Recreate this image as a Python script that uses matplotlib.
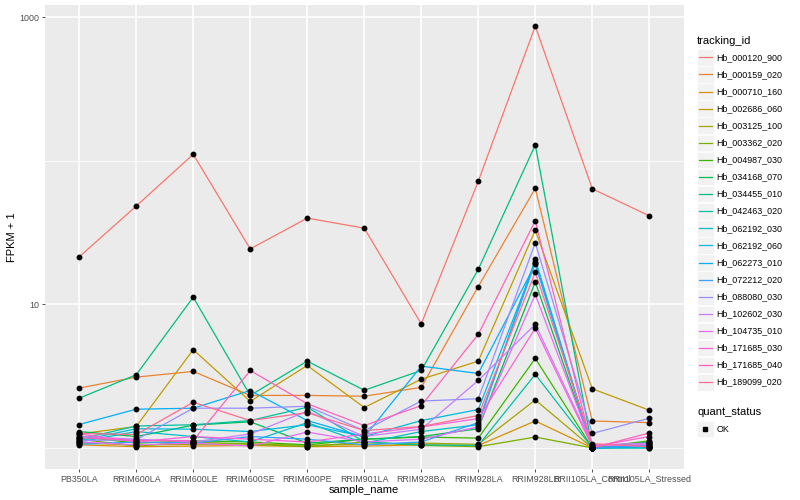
import numpy as np
import matplotlib
matplotlib.use("Agg")
import matplotlib.pyplot as plt
from matplotlib.patches import Rectangle
from matplotlib.lines import Line2D

plt.rcParams['font.family'] = ['Liberation Sans', 'DejaVu Sans']

samples = ['PB350LA', 'RRIM600LA', 'RRIM600LE', 'RRIM600SE', 'RRIM600PE',
           'RRIM901LA', 'RRIM928BA', 'RRIM928LA', 'RRIM928LB',
           'RRII105LA_Control', 'RRII105LA_Stressed']

tracking_ids = ['Hb_000120_900', 'Hb_000159_020', 'Hb_000710_160', 'Hb_002686_060',
                'Hb_003125_100', 'Hb_003362_020', 'Hb_004987_030', 'Hb_034168_070',
                'Hb_034455_010', 'Hb_042463_020', 'Hb_062192_030', 'Hb_062192_060',
                'Hb_062273_010', 'Hb_072212_020', 'Hb_088080_030', 'Hb_102602_030',
                'Hb_104735_010', 'Hb_171685_030', 'Hb_171685_040', 'Hb_189099_020']

# ggplot hue palette, 20 levels
colours = ['#F8766D', '#EA8331', '#D89000', '#C09B00', '#A3A500', '#7CAE00', '#39B600',
           '#00BB4E', '#00BF7D', '#00C1A3', '#00BFC4', '#00BAE0', '#00B0F6', '#35A2FF',
           '#9590FF', '#C77CFF', '#E76BF3', '#FA62DB', '#FF62BC', '#FF6C91']

# FPKM + 1, one row per tracking_id, one column per sample
fpkm1 = [
    [21.4, 48.3, 110.7, 24.3, 39.8, 33.9, 7.3, 71.8, 865, 63.7, 41.3],
    [2.61, 3.11, 3.41, 2.32, 2.32, 2.29, 2.64, 13.3, 64.1, 1.54, 1.50],
    [1.05, 1.02, 1.03, 1.04, 1.02, 1.03, 1.05, 1.04, 1.54, 1.0, 1.01],
    [1.25, 1.41, 4.83, 2.11, 3.75, 1.91, 3.01, 4.02, 32.8, 2.58, 1.83],
    [1.08, 1.05, 1.06, 1.07, 1.04, 1.06, 1.08, 1.06, 2.16, 1.0, 1.03],
    [1.15, 1.03, 1.10, 1.06, 1.02, 1.10, 1.04, 1.02, 1.19, 1.0, 1.10],
    [1.20, 1.08, 1.12, 1.10, 1.05, 1.15, 1.19, 1.17, 4.2, 1.0, 1.12],
    [1.30, 1.20, 1.44, 1.52, 1.08, 1.15, 1.20, 1.36, 14.3, 1.0, 1.10],
    [2.22, 3.23, 11.2, 2.32, 4.02, 2.52, 3.46, 17.5, 128.6, 1.0, 1.02],
    [1.15, 1.42, 1.45, 1.55, 1.92, 1.10, 1.05, 1.04, 3.25, 1.0, 1.0],
    [1.10, 1.30, 1.20, 1.10, 1.50, 1.08, 1.30, 1.45, 20.6, 1.0, 1.0],
    [1.12, 1.36, 1.35, 1.30, 1.45, 1.20, 1.55, 1.85, 19.7, 1.0, 1.05],
    [1.455, 1.86, 1.89, 2.51, 1.55, 1.19, 3.71, 3.30, 19.0, 1.0, 1.02],
    [1.06, 1.10, 1.08, 1.20, 1.15, 1.05, 1.10, 1.50, 19.5, 1.0, 1.04],
    [1.125, 1.14, 1.89, 1.89, 1.95, 1.32, 2.12, 2.20, 26.8, 1.26, 1.61],
    [1.20, 1.15, 1.10, 1.25, 1.80, 1.20, 1.35, 2.95, 7.25, 1.05, 1.08],
    [1.10, 1.05, 1.08, 1.03, 1.29, 1.10, 1.15, 1.40, 11.7, 1.03, 1.06],
    [1.25, 1.10, 1.20, 1.15, 1.10, 1.25, 1.40, 1.60, 6.8, 1.02, 1.20],
    [1.18, 1.125, 1.125, 3.46, 2.03, 1.43, 1.97, 6.18, 38.1, 1.0, 1.27],
    [1.26, 1.24, 2.08, 1.55, 1.76, 1.32, 1.41, 1.68, 16.7, 1.07, 1.02],
]

W, H = 800, 500
fig = plt.figure(figsize=(8, 5), dpi=100)
ax = fig.add_axes([45 / W, 31 / H, 638.5 / W, 464 / H])
ax.set_facecolor('#EBEBEB')

x = np.arange(len(samples))
for vals, col in zip(fpkm1, colours):
    ax.plot(x, vals, color=col, lw=0.9, zorder=3)
for vals in fpkm1:
    ax.plot(x, vals, ls='none', marker='o', ms=3.2, color='black', zorder=4)

ax.set_yscale('log')
lo = np.log10(np.min(fpkm1))
hi = np.log10(np.max(fpkm1))
pad = (hi - lo) * 0.05
ax.set_ylim(10 ** (lo - pad), 10 ** (hi + pad))
ax.set_xlim(-0.6, len(samples) - 0.4)

ax.set_yticks([10, 1000])
ax.set_yticklabels(['10', '1000'])
ax.set_yticks([1, 100], minor=True)
ax.yaxis.set_minor_formatter(plt.NullFormatter())
ax.set_xticks(x)
ax.set_xticklabels(samples)

ax.grid(True, which='major', color='white', lw=1.1, zorder=0)
ax.grid(True, which='minor', axis='y', color='white', lw=0.55, zorder=0)
ax.set_axisbelow(True)
for s in ax.spines.values():
    s.set_visible(False)
ax.tick_params(axis='both', which='major', length=2.5, width=0.6, color='#333333',
               labelsize=6.4, labelcolor='#4D4D4D', pad=1.5)
ax.tick_params(axis='y', which='minor', length=0)

ax.set_xlabel('sample_name', fontsize=8, labelpad=1)
ax.set_ylabel('FPKM + 1', fontsize=8, labelpad=2)


def fx(px):
    return px / W


def fy(py):
    return 1 - py / H


# legend: tracking_id
fig.text(fx(697), fy(40.5), 'tracking_id', fontsize=8, va='center', ha='left')
for i, (tid, col) in enumerate(zip(tracking_ids, colours)):
    cy = 57.3 + i * 17.1
    fig.patches.append(Rectangle((fx(697), fy(cy + 8.3)), 16.5 / W, 16.5 / H,
                                 transform=fig.transFigure, facecolor='#F2F2F2',
                                 edgecolor='white', lw=0.5))
    fig.lines.append(Line2D([fx(699), fx(711.5)], [fy(cy), fy(cy)],
                            transform=fig.transFigure, color=col, lw=0.9))
    fig.text(fx(716.5), fy(cy), tid, fontsize=6.4, va='center', ha='left')

# legend: quant_status
fig.text(fx(697), fy(412.3), 'quant_status', fontsize=8, va='center', ha='left')
fig.patches.append(Rectangle((fx(697), fy(429 + 8.3)), 16.5 / W, 16.5 / H,
                             transform=fig.transFigure, facecolor='#F2F2F2',
                             edgecolor='white', lw=0.5))
fig.lines.append(Line2D([fx(705.2)], [fy(429)], transform=fig.transFigure,
                        ls='none', marker='s', ms=2.5, color='black'))
fig.text(fx(716.5), fy(429), 'OK', fontsize=6.4, va='center', ha='left')

fig.savefig('out.png', dpi=100)
